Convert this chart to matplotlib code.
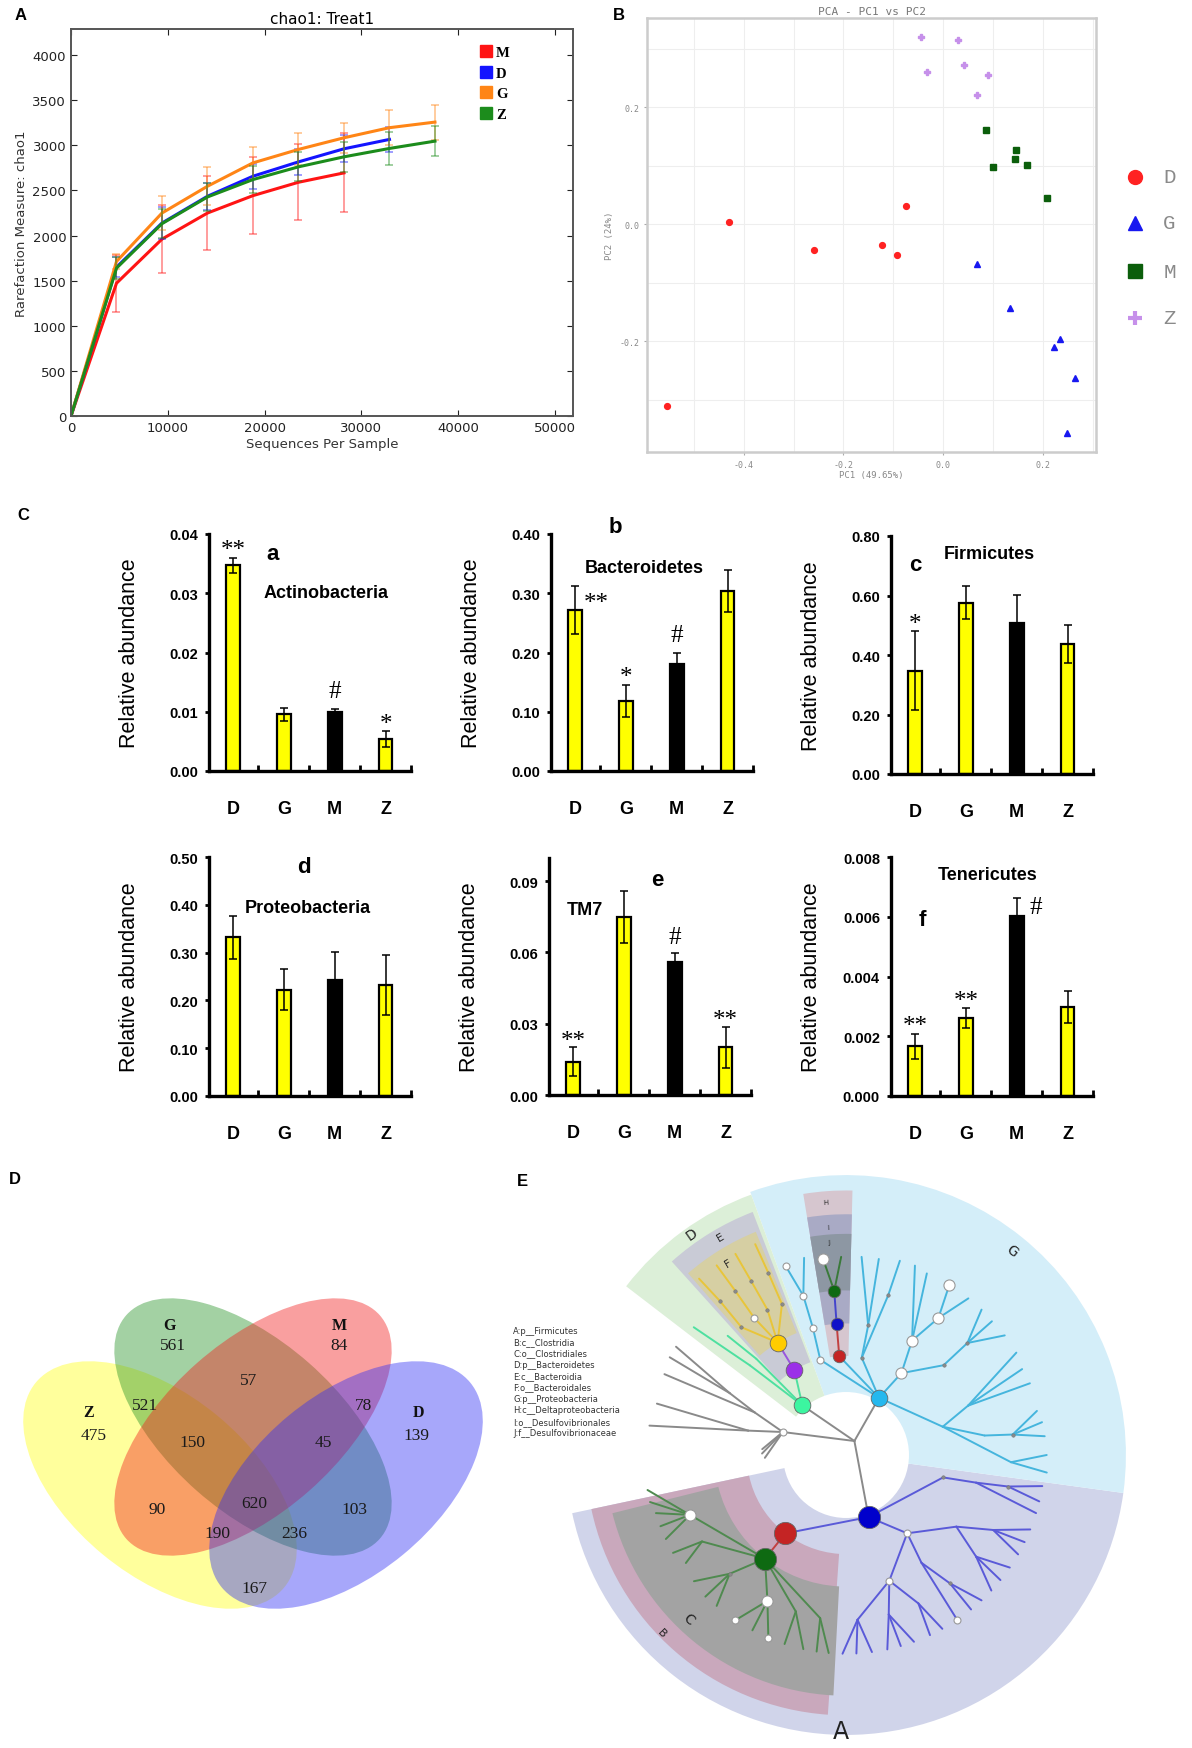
import numpy as np
import matplotlib
matplotlib.use("Agg")
import matplotlib.pyplot as plt
from matplotlib.patches import Ellipse, Wedge, Circle
from matplotlib.lines import Line2D
from matplotlib.ticker import MultipleLocator

plt.rcParams['font.family'] = ['DejaVu Sans']

# ---------------- data ----------------
# A: rarefaction (chao1)
seq = [0, 4700, 9400, 14100, 18800, 23500, 28200, 32900, 37600]
chao_M = [0, 1472, 1961, 2250, 2443, 2591, 2695]
err_M = [0, 315, 378, 415, 430, 422, 437]
chao_D = [0, 1650, 2139, 2436, 2658, 2817, 2962, 3066]
err_D = [0, 110, 175, 150, 140, 140, 150, 140]
chao_G = [0, 1713, 2250, 2547, 2806, 2955, 3084, 3196, 3258]
err_G = [0, 85, 193, 211, 174, 178, 167, 197, 193]
chao_Z = [0, 1639, 2132, 2428, 2621, 2762, 2873, 2966, 3047]
err_Z = [0, 120, 160, 150, 150, 160, 165, 185, 170]

# B: PCA
pc_D_x = [-0.554, -0.429, -0.260, -0.123, -0.092, -0.075]
pc_D_y = [-0.310, 0.005, -0.043, -0.035, -0.052, 0.031]
pc_G_x = [0.068, 0.134, 0.235, 0.222, 0.265, 0.248]
pc_G_y = [-0.068, -0.142, -0.196, -0.209, -0.263, -0.356]
pc_M_x = [0.085, 0.147, 0.145, 0.168, 0.099, 0.209]
pc_M_y = [0.162, 0.128, 0.112, 0.102, 0.098, 0.046]
pc_Z_x = [-0.045, 0.030, -0.033, 0.042, 0.090, 0.068]
pc_Z_y = [0.320, 0.315, 0.261, 0.273, 0.255, 0.221]

# C: relative abundance of phyla
groups = ['D', 'G', 'M', 'Z']
actino = [0.0347, 0.0096, 0.0100, 0.0054]
actino_err = [0.0013, 0.0011, 0.0005, 0.0013]
actino_sig = ['**', '', '#', '*']
bacter = [0.272, 0.118, 0.180, 0.304]
bacter_err = [0.041, 0.027, 0.019, 0.036]
bacter_sig = ['**', '*', '#', '']
firmi = [0.347, 0.576, 0.509, 0.436]
firmi_err = [0.132, 0.056, 0.092, 0.064]
firmi_sig = ['*', '', '', '']
proteo = [0.332, 0.222, 0.242, 0.232]
proteo_err = [0.045, 0.043, 0.060, 0.063]
proteo_sig = ['', '', '', '']
tm7 = [0.014, 0.075, 0.056, 0.020]
tm7_err = [0.006, 0.011, 0.0036, 0.0088]
tm7_sig = ['**', '', '#', '**']
teneri = [0.00166, 0.00261, 0.00604, 0.00298]
teneri_err = [0.00043, 0.00032, 0.0006, 0.00053]
teneri_sig = ['**', '**', '#', '']

# D: Venn counts
venn_sets = ['Z', 'G', 'M', 'D']
venn_counts = [475, 561, 84, 139, 57, 521, 78, 150, 45, 620, 90, 103, 190, 236, 167]

# E: cladogram labels
clade_names = ['A:p__Firmicutes', 'B:c__Clostridia', 'C:o__Clostridiales',
               'D:p__Bacteroidetes', 'E:c__Bacteroidia', 'F:o__Bacteroidales',
               'G:p__Proteobacteria', 'H:c__Deltaproteobacteria',
               'I:o__Desulfovibrionales', 'J:f__Desulfovibrionaceae']

W, H = 1192, 1749
fig = plt.figure(figsize=(W / 100, H / 100), dpi=100)


def px_axes(x0, y0, x1, y1):
    return fig.add_axes([x0 / W, 1 - y1 / H, (x1 - x0) / W, (y1 - y0) / H])


def panel_letter(x, y, s):
    fig.text(x / W, 1 - y / H, s, fontsize=12, fontweight='bold',
             family='Liberation Sans', ha='center', va='center')


# ---------------- A ----------------
ax = px_axes(71, 30, 573, 417)
curves = [('M', chao_M, err_M, '#ff1414'), ('D', chao_D, err_D, '#1414ff'),
          ('G', chao_G, err_G, '#ff8516'), ('Z', chao_Z, err_Z, '#1c8c1c')]
for name, y, e, c in curves:
    n = len(y)
    ax.errorbar(seq[:n], y, yerr=e, fmt='none', ecolor=c, alpha=0.45,
                elinewidth=1.3, capsize=3, capthick=1.3)
    ax.plot(seq[:n], y, color=c, lw=2.2)
ax.set_xlim(0, 51860)
ax.set_ylim(0, 4290)
ax.set_xticks(np.arange(0, 50001, 10000))
ax.set_yticks(np.arange(0, 4001, 500))
ax.tick_params(direction='in', top=True, right=True, length=4, labelsize=9.5,
               colors='#222222')
for s in ax.spines.values():
    s.set_color('#555555')
    s.set_linewidth(1.4)
ax.set_title('chao1: Treat1', fontsize=11, pad=4)
ax.set_xlabel('Sequences Per Sample', fontsize=9.5, labelpad=2, color='#333333')
ax.set_ylabel('Rarefaction Measure: chao1', fontsize=9.5, labelpad=3, color='#333333')
handles = [Line2D([], [], ls='', marker='s', ms=9, color=c) for _, _, _, c in curves]
ax.legend(handles, [n for n, _, _, _ in curves], loc='upper left',
          bbox_to_anchor=(0.80, 0.975), frameon=False, handlelength=0.8,
          handletextpad=0.3, labelspacing=0.5, borderpad=0,
          prop={'family': 'Liberation Serif', 'weight': 'bold', 'size': 10.5})
panel_letter(21, 15, 'A')

# ---------------- B ----------------
ax = px_axes(647, 19, 1096, 453)
pca = [('D', pc_D_x, pc_D_y, '#ff2222', 'o', 4.2), ('G', pc_G_x, pc_G_y, '#1818f0', '^', 4.6),
       ('M', pc_M_x, pc_M_y, '#0b5e0b', 's', 4.0), ('Z', pc_Z_x, pc_Z_y, '#c690ea', 'P', 4.6)]
for name, xs, ys, c, m, ms in pca:
    ax.plot(xs, ys, ls='', marker=m, ms=ms, color=c, mec=c, zorder=3)
ax.set_xlim(-0.594, 0.3065)
ax.set_ylim(-0.389, 0.353)
ax.xaxis.set_major_locator(MultipleLocator(0.2))
ax.yaxis.set_major_locator(MultipleLocator(0.2))
ax.xaxis.set_minor_locator(MultipleLocator(0.1))
ax.yaxis.set_minor_locator(MultipleLocator(0.1))
ax.xaxis.set_major_formatter(plt.FormatStrFormatter('%.1f'))
ax.yaxis.set_major_formatter(plt.FormatStrFormatter('%.1f'))
ax.grid(which='both', color='#eeeeee', lw=0.8, zorder=0)
ax.tick_params(which='both', length=2, color='#aaaaaa', labelsize=6,
               labelcolor='#888888', labelfontfamily='DejaVu Sans Mono')
ax.tick_params(which='minor', length=0)
for s in ax.spines.values():
    s.set_color('#cccccc')
    s.set_linewidth(1.8)
ax.set_title('PCA - PC1 vs PC2', fontsize=8, color='#777777',
             family='DejaVu Sans Mono', pad=3)
ax.set_xlabel('PC1 (49.65%)', fontsize=6.5, color='#888888',
              family='DejaVu Sans Mono', labelpad=1)
ax.set_ylabel('PC2 (24%)', fontsize=6.5, color='#888888',
              family='DejaVu Sans Mono', labelpad=4)
leg_y = [0.634, 0.528, 0.417, 0.309]
leg_m = ['o', '^', 's', '+']
for (name, _, _, c, _, _), yy, m in zip(pca, leg_y, leg_m):
    ax.plot([1.087], [yy], transform=ax.transAxes, ls='', marker=m, ms=10,
            mew=3 if m == '+' else 1, color=c, clip_on=False)
    ax.text(1.15, yy, name, transform=ax.transAxes, fontsize=15, color='#8a8a8a',
            family='Liberation Mono', va='center', ha='left')
panel_letter(619, 15, 'B')

# ---------------- C ----------------
panel_letter(23, 515, 'C')
bar_specs = [
    ((209, 535, 411, 772), actino, actino_err, actino_sig, 0.04, 0.04, 0.01, '%.2f'),
    ((551, 535, 753, 772), bacter, bacter_err, bacter_sig, 0.40, 0.40, 0.10, '%.2f'),
    ((891, 537, 1093, 775), firmi, firmi_err, firmi_sig, 0.80, 0.80, 0.20, '%.2f'),
    ((209, 858, 411, 1097), proteo, proteo_err, proteo_sig, 0.50, 0.50, 0.10, '%.2f'),
    ((549, 859, 751, 1096), tm7, tm7_err, tm7_sig, 0.0997, 0.09, 0.03, '%.2f'),
    ((891, 858, 1093, 1097), teneri, teneri_err, teneri_sig, 0.008, 0.008, 0.002, '%.3f'),
]
# text placement inside each panel: (letter, x, y), (name, x, y)
bar_titles = [
    (('a', 0.78, 0.0367), ('Actinobacteria', 1.84, 0.0301)),
    (('b', 0.80, 0.413), ('Bacteroidetes', 1.37, 0.344)),
    (('c', 0.0, 0.705), ('Firmicutes', 1.47, 0.74)),
    (('d', 1.39, 0.481), ('Proteobacteria', 1.47, 0.394)),
    (('e', 1.65, 0.0907), ('TM7', 0.24, 0.078)),
    (('f', 0.14, 0.00592), ('Tenericutes', 1.43, 0.0074)),
]
side_marks = {(1, 0): (0.42, 0.295), (5, 2): (0.38, 0.0064)}
bar_cols = ['#ffff00', '#ffff00', '#000000', '#ffff00']
xs = np.arange(len(groups))
for i, (rect, vals, errs, sig, ytop, ymax, step, fmt) in enumerate(bar_specs):
    ax = px_axes(*rect)
    ax.bar(xs, vals, width=0.27, color=bar_cols, edgecolor='black', linewidth=1.6, zorder=2)
    ax.errorbar(xs, vals, yerr=errs, fmt='none', ecolor='black', elinewidth=1.1,
                capsize=3.2, capthick=1.1, zorder=3)
    ax.set_xlim(-0.47, 3.5)
    ax.set_ylim(0, ytop)
    ticks = np.arange(0, ymax + step / 2, step)
    ax.set_yticks(ticks, [fmt % t for t in ticks], fontweight='bold',
                  fontsize=10.5, family='Liberation Sans')
    ax.set_xticks(xs, groups, fontweight='bold', fontsize=13, family='Liberation Sans')
    ax.set_xticks([0.5, 1.5, 2.5, 3.5], minor=True)
    ax.tick_params(axis='x', which='major', length=0, pad=21)
    ax.tick_params(axis='x', which='minor', direction='in', length=4, width=2)
    ax.tick_params(axis='y', direction='out', length=3, width=2, pad=5)
    for s in ['top', 'right']:
        ax.spines[s].set_visible(False)
    for s in ['left', 'bottom']:
        ax.spines[s].set_linewidth(2.4)
    ax.set_ylabel('Relative abundance', fontsize=15.5, family='Liberation Sans')
    ax.yaxis.set_label_coords(-0.34, 0.5)
    for j, s in enumerate(sig):
        if not s:
            continue
        if (i, j) in side_marks:
            dx, yc = side_marks[(i, j)]
        else:
            dx = 0
            yc = vals[j] + errs[j] + (0.085 if s == '#' else 0.06) * ymax
        off = -6 if s == '#' else -9
        ax.annotate(s, (xs[j] + dx, yc), xytext=(0, off), textcoords='offset points',
                    ha='center', va='baseline', fontsize=18, family='Liberation Serif')
    (lt, lx, ly), (nt, nx, ny) = bar_titles[i]
    ax.text(lx, ly, lt, fontsize=16, fontweight='bold', family='Liberation Sans',
            ha='center', va='center')
    ax.text(nx, ny, nt, fontsize=13, fontweight='bold', family='Liberation Sans',
            ha='center', va='center')

# ---------------- D: Venn ----------------
panel_letter(15, 1180, 'D')
ax = px_axes(0, 1240, 520, 1660)
ax.set_xlim(0, 520)
ax.set_ylim(1660, 1240)
ax.axis('off')
venn_colors = ['#ffff14', '#249224', '#f21c1c', '#2e2ef5']
venn_shapes = [((160, 1486), 161, 90, 39.5), ((253, 1428), 169, 85, 41.4),
               ((253, 1428), 169, 85, -41.4), ((346, 1486), 161, 90, -39.5)]
for (cxy, a, b, ang), c in zip(venn_shapes, venn_colors):
    ax.add_patch(Ellipse(cxy, 2 * a, 2 * b, angle=ang, facecolor=c, alpha=0.42, lw=0))
venn_label_xy = [(89, 1413), (170, 1326), (339, 1326), (418, 1413)]
for s, (x, y) in zip(venn_sets, venn_label_xy):
    ax.text(x, y, s, fontsize=11.5, fontweight='bold', family='Liberation Serif',
            ha='center', va='center', color='#111111')
venn_count_xy = [(94, 1436), (173, 1346), (339, 1346), (416, 1436), (249, 1381),
                 (145, 1406), (364, 1406), (192, 1443), (323, 1443), (254, 1504),
                 (157, 1510), (354, 1510), (217, 1534), (294, 1534), (254, 1589)]
for v, (x, y) in zip(venn_counts, venn_count_xy):
    ax.text(x, y, str(v), fontsize=12.5, family='Liberation Serif', ha='center',
            va='center', color='#1a1a1a')

# ---------------- E: cladogram ----------------
panel_letter(522, 1182, 'E')
ax = px_axes(556, 1166, 1136, 1746)
ax.set_xlim(-1.036, 1.036)
ax.set_ylim(-1.036, 1.036)
ax.set_aspect('equal')
ax.axis('off')

shades = [  # theta1, theta2, r_in, r_out, colour
    (192, 352.2, 0.2, 1.0, '#d0d4ea'),
    (-7.8, 110, 0.2, 1.0, '#d4eef9'),
    (110, 142.5, 0.2, 0.99, '#dcefd8'),
    (192, 266, 0.354, 0.93, '#c9a8bc'),
    (194, 267, 0.47, 0.86, '#a3a3a3'),
    (111, 132, 0.355, 0.93, '#c9cbd6'),
    (112, 131, 0.47, 0.86, '#d6cfa3'),
    (88.6, 99.3, 0.354, 0.945, '#d6c6cf'),
    (88.6, 99.3, 0.47, 0.86, '#a9aac5'),
    (88.6, 99.3, 0.588, 0.79, '#8d97a3'),
]
for t1, t2, r0, r1, c in shades:
    ax.add_patch(Wedge((0, 0), r1, t1, t2, width=r1 - r0, facecolor=c, lw=0, zorder=1))
ax.add_patch(Circle((0, 0), 0.225, facecolor='white', lw=0, zorder=2))


def N(t, r, mark=None, kids=(), col=None):
    return (t, r, mark, col, list(kids))


def L(t, r, mark=None):
    return (t, r, mark, None, [])


tree_firm = N(-70, 0.236, ('#0000cc', 16), col='#5a5ad8', kids=[
    N(-13, 0.356, 'dot', [
        N(-12, 0.475, None, [
            N(-11, 0.59, 'dot', [L(-9, 0.71), L(-13.5, 0.71)]),
            L(-17, 0.71)])]),
    N(-52, 0.355, 'w', [
        N(-33, 0.47, None, [
            N(-27, 0.59, None, [L(-22, .71), L(-26, .71), L(-30, .71)]),
            N(-38, 0.59, None, [L(-34.5, .71), L(-39, .71), L(-43, .71)])]),
        N(-55, 0.47, None, [
            N(-51, 0.59, 'dot', [L(-47, .71), L(-51, .71)]),
            L(-56, .71, 'w')]),
        N(-71, 0.475, 'w', [
            N(-64, 0.59, None, [L(-61, .71), L(-65, .71)]),
            N(-75, 0.59, None, [L(-70, .71), L(-74, .71), L(-78, .71)]),
            N(-86, 0.59, None, [L(-82.5, .71), L(-87, .71), L(-91, .71)])])]),
    N(232.3, 0.354, ('#c42424', 16), col='#c24040', kids=[
        N(232, 0.47, ('#0e6a12', 16), col='#4f8a4f', kids=[
            N(201, 0.597, 'W', [L(190, .72), L(193.5, .72), L(197, .71), L(201, .71), L(205, .71)]),
            N(211, 0.6, None, [L(209.5, .71), L(214, .69)]),
            N(225.6, 0.594, 'dot', [L(219.7, .706), L(225.2, .713), L(229.4, .71)]),
            N(241.7, 0.592, 'W', [L(236.2, .71, 'w'), L(241.9, .71), L(247, .71, 'w')]),
            N(252.2, 0.587, None, [L(252, .71), L(257.6, .71)]),
            N(261, 0.59, None, [L(261.5, .71), L(265, .71)])])])])

tree_bact = N(131.3, 0.236, ('#3cf5a0', 12), col='#4ee0a0', kids=[
    N(121.3, 0.355, ('#9b30e8', 12), col='#9955dd', kids=[
        N(121.3, 0.47, ('#ffcc00', 12), col='#e8c53a', kids=[
            N(129.3, 0.59, 'dot', [N(129.3, 0.709, 'dot', [L(129.8, 0.82)])]),
            N(123.8, 0.589, 'w', [N(124, 0.707, 'dot', [L(124.3, 0.82)])]),
            N(118.4, 0.59, 'dot', [N(118.6, 0.706, 'dot', [L(118.8, 0.82)])]),
            N(113, 0.586, 'dot', [N(113.1, 0.708, 'dot', [L(113.3, 0.82)])])])]),
    N(137, 0.47, None, [L(140, 0.71)]),
    N(133, 0.47, None, [L(134.8, 0.6)])])

tree_prot = N(60, 0.236, ('#25b8ee', 12), col='#45b5dd', kids=[
    N(93.9, 0.354, ('#c42424', 9), col='#c24040', kids=[
        N(94.1, 0.47, ('#1010c8', 9), col='#4444cc', kids=[
            N(94.1, 0.588, ('#0e6a12', 9), col='#3a7a3a', kids=[
                L(96.7, 0.706, 'W'), L(91.4, 0.708)])])]),
    N(105.1, 0.352, 'w', [N(104.6, 0.47, 'w', [N(105, 0.589, 'w', [
        L(107.7, 0.708, 'w'), L(102, 0.72)])])]),
    N(80.8, 0.352, 'dot', [
        N(80.3, 0.47, 'dot', [L(85.5, 0.71), L(80.5, 0.71)]),
        N(75.2, 0.59, 'dot', [L(74.5, 0.72)])]),
    N(55.9, 0.353, 'W', [
        N(60, 0.472, 'W', [
            N(56, 0.59, 'W', [L(58.7, 0.71, 'W'), L(52, 0.71)]),
            L(66, 0.71), L(70, 0.72)]),
        N(42.6, 0.474, 'dot', [N(42.7, 0.59, 'dot', [L(37, 0.71), L(42.5, 0.707), L(47, 0.71)])])]),
    N(16.3, 0.36, None, [
        N(22, 0.47, None, [L(21.3, 0.705), L(26, 0.70), L(31, 0.71)]),
        N(8, 0.5, None, [N(7, 0.6, 'dot', [L(5.4, 0.713), L(9.5, 0.71), L(13, 0.70)])]),
        N(-2.5, 0.59, None, [L(0, 0.717), L(-5, 0.72)])])])

tree_other = N(160, 0.24, 'w', col='#8a8a8a', kids=[
    N(155, 0.36, None, [N(152, 0.47, None, [L(147.5, 0.72), L(151, 0.72)]), L(156, 0.71)]),
    N(166, 0.36, None, [L(164.8, 0.70), L(171.5, 0.71)]),
    L(176, 0.30), L(179, 0.30), L(182, 0.29)])


def pol(t, r):
    a = np.deg2rad(t)
    return r * np.cos(a), r * np.sin(a)


def draw_mark(x, y, mark):
    if mark is None:
        return
    if mark == 'dot':
        ax.plot(x, y, 'o', ms=2.5, color='#8a8a8a', mec='#777777', mew=0.4, zorder=5)
    elif mark in ('w', 'W'):
        ax.plot(x, y, 'o', ms=5 if mark == 'w' else 8, mfc='white', mec='#999999',
                mew=0.8, zorder=5)
    else:
        c, size = mark
        ax.plot(x, y, 'o', ms=size, mfc=c, mec='#666666', mew=0.6, zorder=6)


def draw_tree(node, color):
    t, r, mark, col, kids = node
    x0, y0 = pol(t, r)
    kc = col or color
    for k in kids:
        x1, y1 = pol(k[0], k[1])
        ax.plot([x0, x1], [y0, y1], color=kc, lw=1.4, zorder=3, solid_capstyle='round')
        draw_tree(k, kc)
    draw_mark(x0, y0, mark)


root = (0.03, 0.05)
for tr in [tree_firm, tree_bact, tree_prot, tree_other]:
    x1, y1 = pol(tr[0], tr[1])
    ax.plot([root[0], x1], [root[1], y1], color='#8a8a8a', lw=1.4, zorder=3)
    draw_tree(tr, '#8a8a8a')

clade_text = [('A', 269, 0.985, 17, 0), ('B', 224, 0.913, 8, -46), ('C', 226, 0.81, 10, -44),
              ('D', 124.8, 0.965, 10, 35), ('E', 120, 0.9, 8, 30), ('F', 121.5, 0.806, 8, 31),
              ('G', 51, 0.94, 10, -39), ('H', 94.5, 0.906, 5, 4), ('I', 94.5, 0.818, 5, 4),
              ('J', 94.5, 0.764, 5, 4)]
for s, t, r, fs, rot in clade_text:
    x, y = pol(t, r)
    ax.text(x, y, s, fontsize=fs, rotation=rot, ha='center', va='center',
            color='#222222', zorder=7)

for i, s in enumerate(clade_names):
    fig.text(513 / W, 1 - (1331 + 11.4 * i) / H, s, fontsize=6, color='#333333',
             ha='left', va='center')

fig.savefig('out.png', dpi=100)
